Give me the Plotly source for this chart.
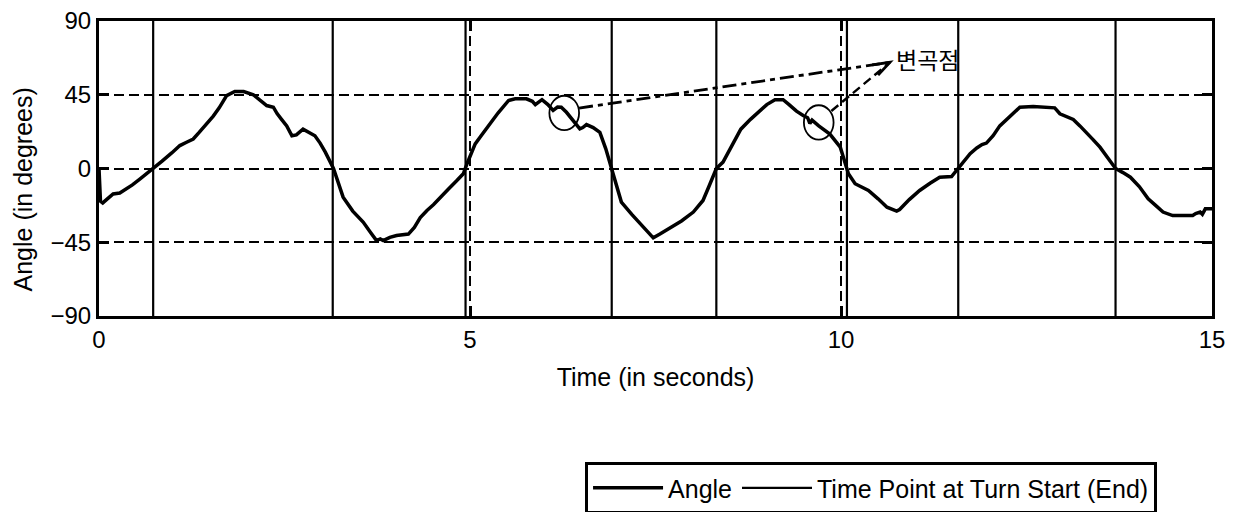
import plotly.graph_objects as go

# ---- data ----
time_s = [0.00, 0.02, 0.05, 0.19, 0.28, 0.37, 0.45, 0.55, 0.65, 0.73, 0.85, 0.98, 1.09, 1.18, 1.27,
          1.35, 1.45, 1.54, 1.62, 1.72, 1.83, 1.95, 2.08, 2.17, 2.26, 2.35, 2.40, 2.46, 2.53, 2.60,
          2.66, 2.75, 2.82, 2.91, 2.98, 3.05, 3.16, 3.22, 3.29, 3.42, 3.56, 3.66, 3.74, 3.79, 3.83,
          3.92, 4.01, 4.17, 4.25, 4.33, 4.42, 4.51, 4.60, 4.71, 4.82, 4.91, 4.96, 5.07, 5.15, 5.25,
          5.38, 5.52, 5.61, 5.76, 5.84, 5.88, 5.97, 6.05, 6.12, 6.18, 6.23, 6.30, 6.40, 6.48, 6.52,
          6.57, 6.66, 6.75, 6.83, 6.91, 7.04, 7.18, 7.32, 7.47, 7.56, 7.70, 7.85, 8.01, 8.14, 8.22,
          8.32, 8.41, 8.55, 8.65, 8.78, 8.91, 9.00, 9.11, 9.22, 9.30, 9.40, 9.49, 9.55, 9.58, 9.61,
          9.70, 9.85, 9.99, 10.05, 10.10, 10.19, 10.28, 10.37, 10.50, 10.62, 10.75, 10.79, 10.92,
          11.06, 11.20, 11.33, 11.49, 11.58, 11.74, 11.83, 11.90, 11.96, 12.05, 12.14, 12.28, 12.41,
          12.59, 12.77, 12.88, 12.95, 13.05, 13.13, 13.22, 13.31, 13.40, 13.49, 13.60, 13.70, 13.80,
          13.90, 14.02, 14.14, 14.24, 14.34, 14.47, 14.60, 14.74, 14.78, 14.84, 14.87, 14.91, 15.00]
angle_deg = [0, -20, -21, -15.5, -15, -12.4, -10, -6.5, -3, 0, 4.5, 9.5, 14, 16, 18,
             22, 27, 32, 37, 44.5, 47, 47, 45, 41.5, 38.4, 37.4, 33.5, 30, 26, 20,
             20.5, 24, 22, 20, 15.5, 10, 0, -8, -17.5, -26, -32.7, -39, -44, -43, -44,
             -42, -40.9, -40, -36, -30, -25.6, -22, -17.5, -12.5, -7.5, -3.2, 2.9, 15, 20, 26,
             34, 41.5, 42.5, 42.5, 41, 39, 42, 39, 35.4, 37.5, 37.4, 34.3, 29, 24.2, 25,
             26.8, 25, 22, 12, 0, -20.5, -28, -35, -42.3, -40, -36, -32, -26.6, -19.5, -11,
             0, 3.9, 16, 24, 30, 35.4, 39, 42, 42, 39, 35, 32.3, 31, 27.5, 29.5,
             26, 21, 13, 4, -3.2, -9.3, -11.5, -13.4, -18.5, -23.6, -26, -25, -19,
             -13.4, -9, -5.3, -4.9, 0, 9, 12.5, 14.6, 15.5, 20, 26, 32, 37.4,
             37.8, 37, 37, 33.4, 31.5, 29.9, 26, 22, 17.5, 13, 6, 0, -2.5,
             -5.3, -11, -18.5, -22.5, -26.6, -28.7, -28.7, -28.7, -27.5, -26.6, -28, -24.6, -24.6]

turn_times = [0.73, 3.15, 4.94, 6.91, 8.32, 10.08, 11.58, 13.70]

x_ticks = [0, 5, 10, 15]
y_ticks = [-90, -45, 0, 45, 90]

# inflection points (circled) and annotation
inflection_t = [6.27, 9.70]
inflection_y = [33.9, 28.1]
label_text = "변곡점"
label_pos = (10.72, 67.0)
arrow_tip = (10.66, 64.8)

FONT = "Liberation Sans, Arial, Helvetica, sans-serif"

fig = go.Figure()

# turn start/end vertical lines
vx, vy = [], []
for t in turn_times:
    vx += [t, t, None]
    vy += [-90, 90, None]

fig.add_trace(go.Scatter(
    x=time_s, y=angle_deg, mode="lines", name="Angle",
    line=dict(color="black", width=3.5),
))
fig.add_trace(go.Scatter(
    x=vx, y=vy, mode="lines", name="Time Point at Turn Start (End)",
    line=dict(color="black", width=2.2),
))

# circles around inflection points
hw, hh = 0.20, 10.5
for t, a in zip(inflection_t, inflection_y):
    fig.add_shape(type="circle", xref="x", yref="y",
                  x0=t - hw, x1=t + hw, y0=a - hh, y1=a + hh,
                  line=dict(color="black", width=1.8))

# leader lines
fig.add_shape(type="line", xref="x", yref="y",
              x0=6.47, y0=36.9, x1=arrow_tip[0], y1=arrow_tip[1],
              line=dict(color="black", width=2.8, dash="14px,5px,5px,5px"))
fig.add_shape(type="line", xref="x", yref="y",
              x0=9.87, y0=35.1, x1=arrow_tip[0], y1=arrow_tip[1],
              line=dict(color="black", width=2.4, dash="9px,5px"))
# arrow head (small solid triangle)
fig.add_shape(type="path", xref="x", yref="y",
              path="M 10.42,63.2 L %f,%f L 10.50,57.0" % arrow_tip,
              line=dict(color="black", width=2.8))

fig.add_annotation(x=label_pos[0], y=label_pos[1], xref="x", yref="y",
                   text=label_text, showarrow=False, xanchor="left", yanchor="middle",
                   font=dict(family="Noto Sans CJK KR", size=23, color="black"))

# y-axis title as annotation (slightly below centre in the reference)
fig.add_annotation(x=-0.068, y=0.43, xref="paper", yref="paper",
                   text="Angle (in degrees)", showarrow=False, textangle=-90,
                   xanchor="center", yanchor="middle",
                   font=dict(family=FONT, size=25, color="black"))

fig.update_xaxes(
    range=[0, 15], tickvals=x_ticks, ticktext=[str(v) for v in x_ticks],
    showline=True, linecolor="black", linewidth=3, mirror="ticks",
    ticks="inside", ticklen=10, tickwidth=3, tickcolor="black",
    showgrid=True, gridcolor="black", gridwidth=1.6, griddash="10px,5px",
    zeroline=False, automargin=False, ticklabeloverflow="allow",
    tickfont=dict(family=FONT, size=24, color="black"),
    title=dict(text="Time (in seconds)", font=dict(family=FONT, size=25, color="black"), standoff=17),
)
fig.update_yaxes(
    range=[-90, 90], tickvals=y_ticks,
    showline=True, linecolor="black", linewidth=3, mirror="ticks",
    ticks="inside", ticklen=10, tickwidth=3, tickcolor="black",
    showgrid=True, gridcolor="black", gridwidth=1.6, griddash="10px,5px",
    zeroline=False, automargin=False, ticklabeloverflow="allow",
    tickfont=dict(family=FONT, size=24, color="black"),
)

# the page body adds an 8px offset, so the figure is sized/placed to compensate
fig.update_layout(
    width=1226, height=504,
    margin=dict(l=91, r=22, t=13, b=196, autoexpand=False),
    plot_bgcolor="white", paper_bgcolor="white",
    font=dict(family=FONT, color="black"),
    showlegend=True,
    legend=dict(
        orientation="h", x=0.4367, y=-0.495, xanchor="left", yanchor="top",
        bordercolor="black", borderwidth=3, bgcolor="white",
        font=dict(family=FONT, size=25, color="black"),
        itemwidth=70,
    ),
)

fig.write_html("out.html")
